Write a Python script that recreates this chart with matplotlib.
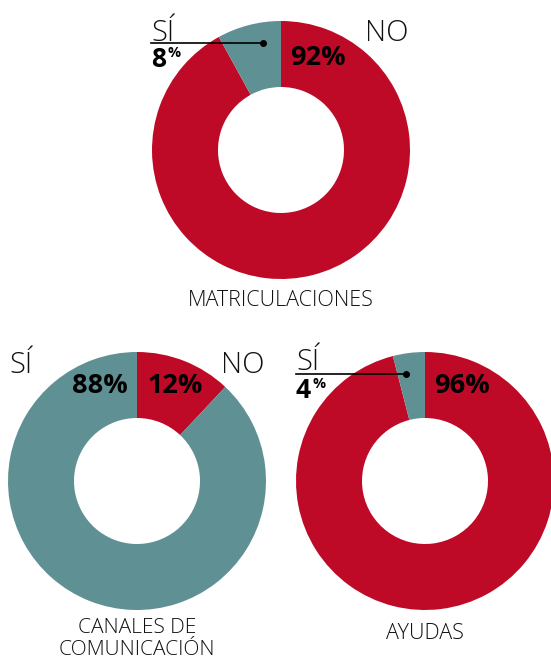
import matplotlib.pyplot as plt

# data
titles = ["MATRICULACIONES", "CANALES DE\nCOMUNICACIÓN", "AYUDAS"]
no_vals = [92, 12, 96]
si_vals = [8, 88, 4]

red = "#BE0A27"
teal = "#5F9194"

W, H = 551, 663
fig = plt.figure(figsize=(W / 100, H / 100), dpi=100)
ax = fig.add_axes([0, 0, 1, 1])

# pixel layout of the three donuts (x, y from top)
centers = [(281, 150), (137, 481), (425, 481)]
R = 129
ring = 66

for (cx, cy), no, si in zip(centers, no_vals, si_vals):
    ax.pie([no, si], center=(cx, H - cy), radius=R, startangle=90,
           counterclock=False, colors=[red, teal],
           wedgeprops=dict(width=ring, linewidth=0))

ax.set_xlim(0, W)
ax.set_ylim(0, H)
ax.set_aspect("equal")
ax.axis("off")

light = dict(family="Open Sans", fontweight="light", color="#111111")
bold = dict(family="Open Sans", fontweight="bold", color="black")


def t(x, y, s, size, ha="left", va="baseline", style=light):
    ax.text(x, H - y, s, fontsize=size, ha=ha, va=va, **style)


def pct_small(x, y, num, size):
    # number bold with superscript %
    txt = ax.text(x, H - y, num, fontsize=size, ha="left", va="baseline", **bold)
    fig.canvas.draw()
    bb = txt.get_window_extent()
    ax.text(bb.x1 + 1, H - y + 10, "%", fontsize=size * 0.55, ha="left",
            va="baseline", **bold)


# top donut
t(151, 41, "SÍ", 21)
ax.plot([151, 263], [H - 43, H - 43], color="black", lw=1.2)
ax.plot([263], [H - 43], "o", color="black", ms=4)
pct_small(151, 67, str(si_vals[0]), 19)
t(409, 41, "NO", 21, ha="right")
t(318, 65, f"{no_vals[0]}%", 19.5, ha="center", style=bold)
t(281, 306, titles[0], 15.5, ha="center")

# bottom left
t(9, 373, "SÍ", 21)
t(264, 373, "NO", 21, ha="right")
t(100, 393, f"{si_vals[1]}%", 19.5, ha="center", style=bold)
t(175, 393, f"{no_vals[1]}%", 19.5, ha="center", style=bold)
ax.text(137, H - 639, titles[1], fontsize=15, ha="center", va="center",
        linespacing=1.08, **light)

# bottom right
t(296, 370, "SÍ", 21)
ax.plot([296, 406], [H - 374, H - 374], color="black", lw=1.2)
ax.plot([406], [H - 374], "o", color="black", ms=4)
pct_small(296, 398, str(si_vals[2]), 19)
t(462, 393, f"{no_vals[2]}%", 19.5, ha="center", style=bold)
t(425, 639, titles[2], 15.5, ha="center")

fig.savefig("out.png", dpi=100, facecolor="white")
